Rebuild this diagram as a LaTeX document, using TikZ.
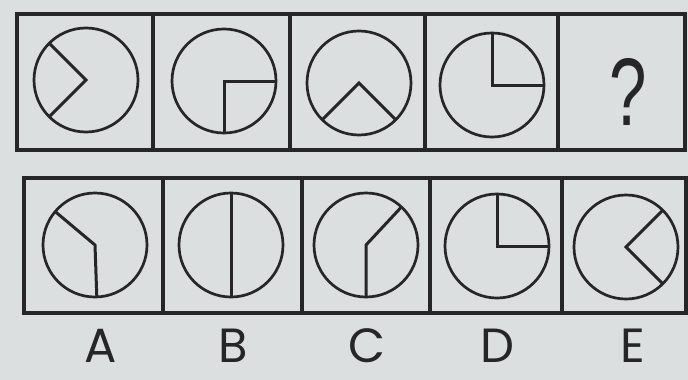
\documentclass[tikz,border=0pt]{standalone}
\usepackage{fontspec}
\newfontfamily\lettersfont{Poppins}
\newfontfamily\qmarkfont{Liberation Sans}
\usepackage{tikz}
\usetikzlibrary{positioning}
\definecolor{paper}{RGB}{219,223,223}
\definecolor{ink}{RGB}{38,38,38}
\tikzset{
  line cap=round,
  line join=round,
}

\begin{document}
\begin{tikzpicture}[
  x=1pt, y=-1pt,
  cell/.style={draw=ink, line width=3.2pt},
  dial/.style={circle, draw=ink, line width=2.7pt, minimum size=104pt, inner sep=0pt, outer sep=0pt},
  spoke/.style={draw=ink, line width=3pt},
  letter/.style={font=\lettersfont\fontsize{48}{48}\selectfont, text=ink, inner sep=0pt}
]

\fill[paper] (0,0) rectangle (688,380);
\useasboundingbox (0,0) rectangle (688,380);

% top row
\draw[cell] (17,14) rectangle (685,150);
\draw[cell] (153,14) -- (153,150);
\draw[cell] (290,14) -- (290,150);
\draw[cell] (425,14) -- (425,150);
\draw[cell] (558,14) -- (558,150);

\node[dial] (t1) at (86,80) {};
\node[dial] (t2) at (224,81) {};
\node[dial] (t3) at (359,83) {};
\node[dial] (t4) at (492,85) {};
\node[text=ink, font=\qmarkfont\fontsize{96}{96}\selectfont, xscale=0.7] (q) at (628,92) {?};

\draw[spoke] (t1.135) -- (t1.center) -- (t1.225);
\draw[spoke] (t2.0) -- (t2.center) -- (t2.270);
\draw[spoke] (t3.225) -- (t3.center) -- (t3.315);
\draw[spoke] (t4.90) -- (t4.center) -- (t4.0);

% answer row
\draw[cell] (24,178) rectangle (686,313);
\draw[cell] (163,178) -- (163,313);
\draw[cell] (302,178) -- (302,313);
\draw[cell] (430,178) -- (430,313);
\draw[cell] (562,178) -- (562,313);

\node[dial] (a) at (95,245) {};
\node[dial] (b) at (231,245) {};
\node[dial] (c) at (366,245) {};
\node[dial] (d) at (497,246) {};
\node[dial] (e) at (626,247) {};

\draw[spoke] (a.140) -- (a.center) -- (a.272);
\draw[spoke] (b.90) -- (b.270);
\draw[spoke] (c.47) -- (c.center) -- (c.270);
\draw[spoke] (d.90) -- (d.center) -- (d.0);
\draw[spoke] (e.45) -- (e.center) -- (e.315);

\node[letter] (la) at (101,346) {A};
\node[letter] (lb) at (233,346) {B};
\node[letter] (lc) at (367,346) {C};
\node[letter] (ld) at (497,346) {D};
\node[letter] (le) at (633,346) {E};

\end{tikzpicture}
\end{document}
